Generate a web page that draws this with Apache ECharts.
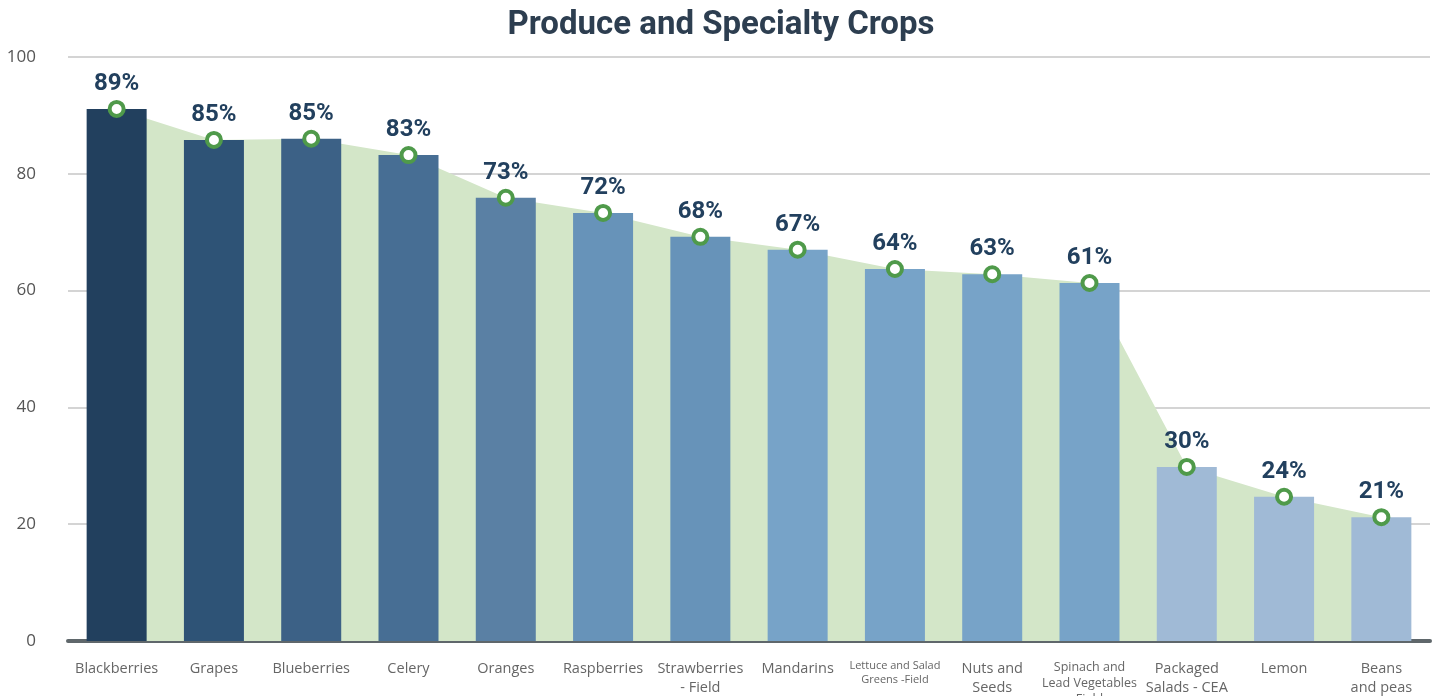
<!DOCTYPE html>
<html>
<head>
<meta charset="utf-8">
<script src="https://cdn.jsdelivr.net/npm/echarts@6/dist/echarts.min.js"></script>
<style>
  html, body { margin: 0; padding: 0; background: #fff; }
  #chart { width: 1442px; height: 696px; }
</style>
</head>
<body>
<div id="chart"></div>
<script>
// categories along the x axis
var categories = ['Blackberries', 'Grapes', 'Blueberries', 'Celery', 'Oranges', 'Raspberries',
  'Strawberries\n- Field', 'Mandarins', 'Lettuce and Salad\nGreens -Field', 'Nuts and\nSeeds',
  'Spinach and\nLead Vegetables\nField', 'Packaged\nSalads - CEA', 'Lemon', 'Beans\nand peas'];
// bar heights as drawn
var barValues = [91.1, 85.8, 86.0, 83.2, 75.9, 73.3, 69.2, 67.0, 63.7, 62.8, 61.3, 29.8, 24.7, 21.2];
// percentage labels printed above each bar
var pctLabels = [89, 85, 85, 83, 73, 72, 68, 67, 64, 63, 61, 30, 24, 21];
var barColors = ['#22405e', '#2e5376', '#3c6186', '#476e94', '#5a80a4', '#6793b9', '#6793b9',
  '#77a3c8', '#77a3c8', '#77a3c8', '#77a3c8', '#a0bad6', '#a0bad6', '#a0bad6'];
var yTicks = [0, 20, 40, 60, 80, 100];

var chart = echarts.init(document.getElementById('chart'));

var option = {
  animation: false,
  title: {
    text: 'Produce and Specialty Crops',
    left: 'center',
    top: 4,
    textStyle: { fontFamily: 'Roboto', fontWeight: 'bold', fontSize: 33, color: '#2d3e50' }
  },
  grid: { left: 68, right: 12, top: 57, bottom: 55, containLabel: false, outerBoundsMode: 'none' },
  xAxis: {
    type: 'category',
    data: categories,
    axisTick: { show: false },
    axisLine: { lineStyle: { color: '#5f676b', width: 4 } },
    axisLabel: {
      interval: 0,
      margin: 18,
      color: '#666',
      fontFamily: 'Open Sans',
      fontSize: 14.5,
      lineHeight: 19,
      formatter: function (v, i) {
        if (i === 8) return '{s|' + v + '}';
        if (i === 10) return '{m|' + v + '}';
        return v;
      },
      rich: {
        s: { fontSize: 11, lineHeight: 14, color: '#666', fontFamily: 'Open Sans' },
        m: { fontSize: 12.5, lineHeight: 16, color: '#666', fontFamily: 'Open Sans' }
      }
    }
  },
  yAxis: {
    type: 'value',
    min: yTicks[0],
    max: yTicks[yTicks.length - 1],
    interval: 20,
    axisLabel: { color: '#555', fontSize: 17, fontFamily: 'Open Sans', margin: 32 },
    splitLine: { lineStyle: { color: '#d4d4d4', width: 2 } }
  },
  series: [
    {
      type: 'line',
      data: barValues,
      z: 1,
      symbol: 'none',
      lineStyle: { width: 0 },
      areaStyle: { color: '#d3e6c8', opacity: 1 }
    },
    {
      type: 'bar',
      data: barValues.map(function (v, i) {
        return { value: v, itemStyle: { color: barColors[i] } };
      }),
      barWidth: 60,
      z: 2
    },
    {
      type: 'line',
      data: barValues,
      z: 3,
      symbol: 'circle',
      symbolSize: 14,
      lineStyle: { width: 0 },
      itemStyle: { color: '#fff', borderColor: '#4f9a4a', borderWidth: 4 },
      label: {
        show: true,
        position: 'top',
        distance: 4,
        formatter: function (p) { return pctLabels[p.dataIndex] + '%'; },
        fontFamily: 'Roboto',
        fontWeight: 'bold',
        fontSize: 24,
        color: '#22405e'
      }
    }
  ]
};

chart.setOption(option);
</script>
</body>
</html>
